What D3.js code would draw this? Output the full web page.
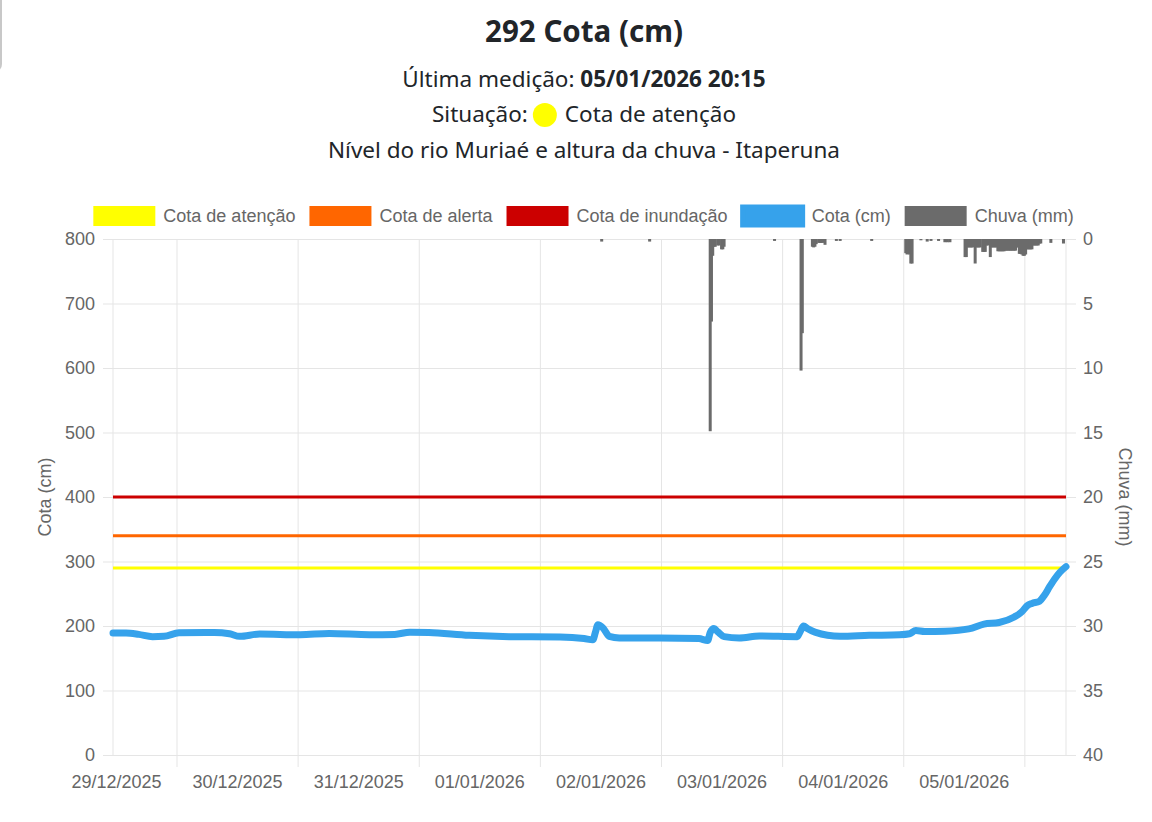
<!DOCTYPE html>
<html lang="pt-BR">
<head>
<meta charset="utf-8">
<title>Cota - Itaperuna</title>
<script src="https://cdn.jsdelivr.net/npm/d3@7"></script>
<style>
  body { margin: 0; background: #fff; }
  svg { display: block; }
</style>
</head>
<body>
<div id="chart"></div>
<script>
// leituras de cota (cm)
const cotaTimes = [
  '28/12/2025 23:25', '29/12/2025 02:00', '29/12/2025 04:30', '29/12/2025 07:15', '29/12/2025 09:30',
  '29/12/2025 12:30', '29/12/2025 19:30', '29/12/2025 22:30', '30/12/2025 00:30', '30/12/2025 04:30',
  '30/12/2025 12:30', '30/12/2025 18:15', '31/12/2025 02:15', '31/12/2025 07:15', '31/12/2025 10:15',
  '31/12/2025 14:00', '31/12/2025 22:00', '01/01/2026 06:00', '01/01/2026 16:00', '01/01/2026 20:45',
  '01/01/2026 22:30', '01/01/2026 23:00', '01/01/2026 23:30', '02/01/2026 00:30', '02/01/2026 01:45',
  '02/01/2026 03:45', '02/01/2026 11:45', '02/01/2026 19:30', '02/01/2026 21:15', '02/01/2026 21:45',
  '02/01/2026 22:30', '02/01/2026 23:15', '03/01/2026 00:30', '03/01/2026 03:30', '03/01/2026 07:30',
  '03/01/2026 15:00', '03/01/2026 15:30', '03/01/2026 16:15', '03/01/2026 17:00', '03/01/2026 18:30',
  '03/01/2026 23:30', '04/01/2026 05:15', '04/01/2026 11:15', '04/01/2026 13:15', '04/01/2026 14:30',
  '04/01/2026 16:15', '04/01/2026 20:15', '05/01/2026 01:00', '05/01/2026 04:00', '05/01/2026 07:00',
  '05/01/2026 10:00', '05/01/2026 11:30', '05/01/2026 12:30', '05/01/2026 13:30', '05/01/2026 15:00',
  '05/01/2026 16:00', '05/01/2026 17:00', '05/01/2026 18:00', '05/01/2026 19:00', '05/01/2026 20:15'
]
const cotaValues = [
  189, 189, 187, 183.5, 184,
  189.5, 190, 188, 184, 187.5,
  186.5, 188.5, 186.5, 187, 190.5,
  190, 185.5, 183.5, 183, 180.5,
  178.5, 190, 202, 197, 184,
  181.5, 181.5, 180.5, 177.5, 190,
  196, 191, 183.5, 181.5, 184.5,
  183.5, 190, 200, 196, 190.5,
  184, 185.5, 186.5, 188, 193,
  191.5, 192, 195.5, 203, 205.5,
  214, 222, 231, 235, 238.5,
  248, 261, 273, 283, 292
]

// chuva (mm) por leitura
const rainTimes = [
  '02/01/2026 00:15', '02/01/2026 09:45', '02/01/2026 21:45', '02/01/2026 22:00', '02/01/2026 22:15',
  '02/01/2026 22:30', '02/01/2026 22:45', '02/01/2026 23:15', '02/01/2026 23:30', '03/01/2026 00:00',
  '03/01/2026 00:15', '03/01/2026 00:30', '03/01/2026 10:30', '03/01/2026 15:45', '03/01/2026 16:00',
  '03/01/2026 18:00', '03/01/2026 18:15', '03/01/2026 18:30', '03/01/2026 18:45', '03/01/2026 19:15',
  '03/01/2026 19:30', '03/01/2026 19:45', '03/01/2026 20:00', '03/01/2026 20:30', '03/01/2026 22:45',
  '03/01/2026 23:30', '04/01/2026 05:45', '04/01/2026 12:30', '04/01/2026 12:45', '04/01/2026 13:00',
  '04/01/2026 13:15', '04/01/2026 13:30', '04/01/2026 13:45', '04/01/2026 15:30', '04/01/2026 16:45',
  '04/01/2026 17:30', '04/01/2026 19:00', '04/01/2026 20:15', '04/01/2026 20:45', '04/01/2026 21:15',
  '05/01/2026 00:15', '05/01/2026 00:30', '05/01/2026 00:45', '05/01/2026 01:00', '05/01/2026 01:15',
  '05/01/2026 01:30', '05/01/2026 01:45', '05/01/2026 02:15', '05/01/2026 02:30', '05/01/2026 02:45',
  '05/01/2026 03:00', '05/01/2026 03:15', '05/01/2026 03:45', '05/01/2026 04:00', '05/01/2026 04:15',
  '05/01/2026 04:30', '05/01/2026 04:45', '05/01/2026 05:15', '05/01/2026 05:30', '05/01/2026 05:45',
  '05/01/2026 06:00', '05/01/2026 06:15', '05/01/2026 06:30', '05/01/2026 06:45', '05/01/2026 07:00',
  '05/01/2026 07:15', '05/01/2026 07:30', '05/01/2026 07:45', '05/01/2026 08:00', '05/01/2026 08:15',
  '05/01/2026 08:30', '05/01/2026 08:45', '05/01/2026 09:00', '05/01/2026 09:15', '05/01/2026 09:30',
  '05/01/2026 09:45', '05/01/2026 10:00', '05/01/2026 10:15', '05/01/2026 10:30', '05/01/2026 10:45',
  '05/01/2026 11:00', '05/01/2026 11:15', '05/01/2026 11:30', '05/01/2026 11:45', '05/01/2026 12:00',
  '05/01/2026 12:15', '05/01/2026 12:30', '05/01/2026 12:45', '05/01/2026 13:00', '05/01/2026 13:15',
  '05/01/2026 13:30', '05/01/2026 13:45', '05/01/2026 14:00', '05/01/2026 14:15', '05/01/2026 14:30',
  '05/01/2026 14:45', '05/01/2026 15:00', '05/01/2026 15:15', '05/01/2026 17:15', '05/01/2026 19:45'
]
const rainValues = [
  0.2, 0.2, 14.9, 6.4, 1.3,
  0.6, 0.6, 0.5, 0.5, 0.8,
  0.8, 0.6, 0.15, 10.2, 7.3,
  0.6, 0.65, 0.6, 0.4, 0.3,
  0.3, 0.3, 0.3, 0.45, 0.15,
  0.15, 0.15, 1.1, 1.2, 1.1,
  1.2, 1.9, 1.9, 0.1, 0.2,
  0.15, 0.15, 0.25, 0.25, 0.25,
  1.4, 1.4, 0.65, 0.65, 0.65,
  0.65, 0.65, 1.9, 0.65, 0.65,
  0.65, 0.65, 1.0, 1.0, 1.0,
  0.5, 0.5, 1.4, 0.65, 0.65,
  0.65, 0.65, 0.65, 0.95, 0.95,
  0.95, 0.95, 0.95, 0.95, 0.9,
  0.9, 0.9, 0.9, 0.9, 0.9,
  0.9, 0.9, 0.9, 0.65, 0.65,
  1.15, 1.15, 1.2, 1.3, 1.3,
  1.2, 0.8, 0.8, 0.8, 0.8,
  0.8, 0.5, 0.5, 0.5, 0.5,
  0.5, 0.35, 0.35, 0.3, 0.35
]

const thresholdNames = ['Cota de atenção', 'Cota de alerta', 'Cota de inundação']
const thresholdValues = [290, 340, 400]

const dayLabels = ['29/12/2025', '30/12/2025', '31/12/2025', '01/01/2026', '02/01/2026', '03/01/2026', '04/01/2026', '05/01/2026']
const cotaTicks = [0, 100, 200, 300, 400, 500, 600, 700, 800]
const rainTicks = [0, 5, 10, 15, 20, 25, 30, 35, 40]

const legendNames = ['Cota de atenção', 'Cota de alerta', 'Cota de inundação', 'Cota (cm)', 'Chuva (mm)']

const colors = {
  'Cota de atenção': '#ffff00',
  'Cota de alerta': '#ff6600',
  'Cota de inundação': '#cc0000',
  'Cota (cm)': '#36a2eb',
  'Chuva (mm)': '#6b6b6b'
}

const parse = d3.timeParse('%d/%m/%Y %H:%M')

const W = 1152
const H = 822
const pLeft = 113, pRight = 1066, pTop = 239, pBottom = 755
const cx = 584
const gridColor = '#e5e5e5'
const tickFont = "'Liberation Sans', Arial, sans-serif"
const headFont = "'Noto Sans', 'Open Sans', sans-serif"
const headSize = '22.5px'

const svg = d3.select('#chart')
  .append('svg')
  .attr('width', W)
  .attr('height', H)

// borda cinza no canto superior esquerdo
svg.append('path')
  .attr('d', 'M1,0 L1,64 Q1,70 -5,70')
  .attr('fill', 'none')
  .attr('stroke', '#c8c8c8')
  .attr('stroke-width', 2)

// cabecalho
svg.append('text')
  .attr('x', cx).attr('y', 42)
  .attr('text-anchor', 'middle')
  .style('font', `bold 29.5px ${headFont}`)
  .attr('fill', '#212529')
  .text('292 Cota (cm)')

const ult = svg.append('text')
  .attr('x', cx).attr('y', 87)
  .attr('text-anchor', 'middle')
  .style('font', `${headSize} ${headFont}`)
  .attr('fill', '#212529')
ult.append('tspan').text('Última medição: ')
ult.append('tspan').attr('font-weight', 'bold').text('05/01/2026 20:15')

const sit = svg.append('g')
const sitA = sit.append('text').attr('y', 122)
  .style('font', `${headSize} ${headFont}`).attr('fill', '#212529').text('Situação:')
const sitB = sit.append('text').attr('y', 122)
  .style('font', `${headSize} ${headFont}`).attr('fill', '#212529').text('Cota de atenção')
const wA = sitA.node().getComputedTextLength()
const wB = sitB.node().getComputedTextLength()
const sitW = wA + 5 + 24 + 8 + wB
const sx = cx - sitW / 2
sitA.attr('x', sx)
sit.append('circle')
  .attr('cx', sx + wA + 5 + 12).attr('cy', 115).attr('r', 12)
  .attr('fill', colors['Cota de atenção'])
sitB.attr('x', sx + wA + 5 + 24 + 8)

svg.append('text')
  .attr('x', cx).attr('y', 158)
  .attr('text-anchor', 'middle')
  .style('font', `${headSize} ${headFont}`)
  .attr('fill', '#212529')
  .text('Nível do rio Muriaé e altura da chuva - Itaperuna')

// escalas
const cota = cotaTimes.map((t, i) => ({ t: parse(t), v: cotaValues[i] }))
const rain = rainTimes.map((t, i) => ({ t: parse(t), v: rainValues[i] }))

const x = d3.scaleTime()
  .domain([cota[0].t, cota[cota.length - 1].t])
  .range([pLeft, pRight])
const y = d3.scaleLinear().domain([0, 800]).range([pBottom, pTop])
const y2 = d3.scaleLinear().domain([0, 40]).range([pTop, pBottom])

const midnights = dayLabels.map(d => parse(d + ' 00:00'))
const noons = midnights.map(d => d3.timeHour.offset(d, 12))

// grade horizontal
svg.append('g')
  .attr('transform', `translate(${pLeft},0)`)
  .call(d3.axisLeft(y).tickValues(cotaTicks).tickSize(-(pRight - pLeft)).tickFormat(''))
  .call(g => g.select('.domain').remove())
  .call(g => g.selectAll('line').attr('stroke', gridColor))

// grade vertical (meio-dia) com marcas abaixo do eixo
svg.append('g')
  .attr('transform', `translate(0,${pBottom + 12})`)
  .call(d3.axisBottom(x).tickValues(noons).tickSize(-(pBottom + 12 - pTop)).tickFormat(''))
  .call(g => g.select('.domain').remove())
  .call(g => g.selectAll('line').attr('stroke', gridColor))

// bordas da area
svg.append('g')
  .selectAll('line')
  .data([pLeft, pRight])
  .enter()
  .append('line')
  .attr('x1', d => d).attr('x2', d => d)
  .attr('y1', pTop).attr('y2', pBottom)
  .attr('stroke', gridColor)

// eixo esquerdo
const yAxis = svg.append('g')
  .attr('transform', `translate(${pLeft},0)`)
  .call(d3.axisLeft(y).tickValues(cotaTicks).tickSize(10).tickPadding(8))
yAxis.select('.domain').remove()
yAxis.selectAll('line').attr('stroke', gridColor)
yAxis.selectAll('text').style('font', `18px ${tickFont}`).attr('fill', '#666')

// eixo direito (chuva invertida)
const y2Axis = svg.append('g')
  .attr('transform', `translate(${pRight},0)`)
  .call(d3.axisRight(y2).tickValues(rainTicks).tickSize(10).tickPadding(7))
y2Axis.select('.domain').remove()
y2Axis.selectAll('line').attr('stroke', gridColor)
y2Axis.selectAll('text').style('font', `18px ${tickFont}`).attr('fill', '#666')

// eixo x com as datas
const xAxis = svg.append('g')
  .attr('transform', `translate(0,${pBottom})`)
  .call(d3.axisBottom(x).tickValues(midnights).tickSize(0).tickPadding(20)
    .tickFormat((d, i) => dayLabels[i]))
xAxis.select('.domain').remove()
xAxis.selectAll('text').style('font', `18px ${tickFont}`).attr('fill', '#666')

// titulos dos eixos
svg.append('text')
  .attr('transform', `translate(51,${(pTop + pBottom) / 2}) rotate(-90)`)
  .attr('text-anchor', 'middle')
  .style('font', `18px ${tickFont}`)
  .attr('fill', '#666')
  .text('Cota (cm)')

svg.append('text')
  .attr('transform', `translate(1119,${(pTop + pBottom) / 2}) rotate(90)`)
  .attr('text-anchor', 'middle')
  .style('font', `18px ${tickFont}`)
  .attr('fill', '#666')
  .text('Chuva (mm)')

// linhas de referencia
svg.append('g')
  .selectAll('line')
  .data(thresholdValues)
  .enter()
  .append('line')
  .attr('x1', x(cota[0].t))
  .attr('x2', x(cota[cota.length - 1].t))
  .attr('y1', d => y(d))
  .attr('y2', d => y(d))
  .attr('stroke', (d, i) => colors[thresholdNames[i]])
  .attr('stroke-width', 3)

// chuva
svg.append('g')
  .selectAll('rect')
  .data(rain)
  .enter()
  .append('rect')
  .attr('x', d => x(d.t) - 1.5)
  .attr('width', 3)
  .attr('y', y2(0))
  .attr('height', d => y2(d.v) - y2(0))
  .attr('fill', colors['Chuva (mm)'])

// cota
const line = d3.line()
  .x(d => x(d.t))
  .y(d => y(d.v))
  .curve(d3.curveMonotoneX)

svg.append('path')
  .datum(cota)
  .attr('d', line)
  .attr('fill', 'none')
  .attr('stroke', colors['Cota (cm)'])
  .attr('stroke-width', 7)
  .attr('stroke-linejoin', 'round')
  .attr('stroke-linecap', 'round')

// legenda
const legend = svg.append('g')
const items = legend.selectAll('g')
  .data(legendNames)
  .enter()
  .append('g')

items.append('rect')
  .attr('width', 60)
  .attr('height', 18)
  .attr('fill', d => colors[d])
  .attr('stroke', d => colors[d])
  .attr('stroke-width', d => d === 'Cota (cm)' ? 5 : 2)

items.append('text')
  .attr('x', 69)
  .attr('y', 15)
  .style('font', `18px ${tickFont}`)
  .attr('fill', '#666')
  .text(d => d)

const widths = []
items.each(function () {
  widths.push(69 + d3.select(this).select('text').node().getComputedTextLength())
})
const gap = 15
const total = d3.sum(widths) + gap * (widths.length - 1)
let lx = cx - total / 2
items.attr('transform', (d, i) => {
  const tx = lx
  lx += widths[i] + gap
  return `translate(${tx},207)`
})
</script>
</body>
</html>
